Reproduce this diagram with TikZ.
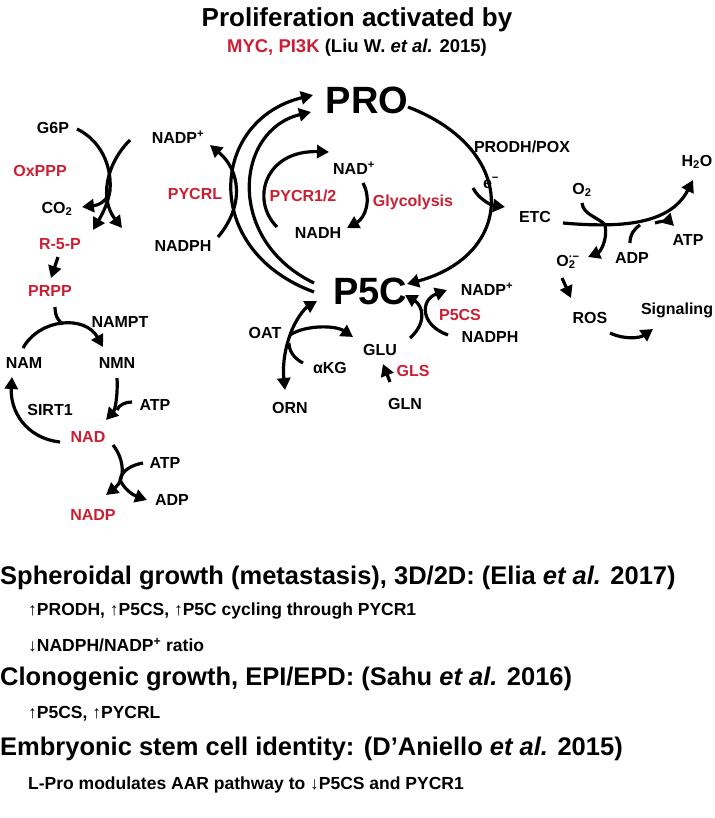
\documentclass[tikz,border=0pt]{standalone}
\usepackage{fontspec}
\setmainfont{Liberation Sans}
\usetikzlibrary{arrows.meta}
\definecolor{myred}{RGB}{204,30,50}
\begin{document}
\begin{tikzpicture}[x=1pt,y=-1pt,
  lbl/.style={font=\bfseries\fontsize{16}{18}\selectfont,inner sep=0pt},
  rl/.style={lbl,text=myred},
  big/.style={font=\bfseries\fontsize{38}{40}\selectfont,inner sep=0pt},
  arr/.style={line width=3.2pt,-{Triangle[length=12pt,width=13pt]}},
  ln/.style={line width=3.2pt},
  hd/.style={font=\bfseries\fontsize{25.5}{28}\selectfont,inner sep=0pt,anchor=west},
  it/.style={font=\bfseries\fontsize{17.5}{20}\selectfont,inner sep=0pt,anchor=west}]
\useasboundingbox (0,0) rectangle (714,818);
% title
\node[font=\bfseries\fontsize{26}{28}\selectfont] (t1) at (357,20) {Proliferation activated by};
\node[font=\bfseries\fontsize{18.5}{20}\selectfont] (t2) at (357,48) {\textcolor{myred}{MYC, PI3K} (Liu W. \textit{et al.} 2015)};
% main nodes
\node[big] (pro) at (367,100) {PRO};
\node[big] (p5c) at (370,291) {P5C};
% left labels
\node[lbl] (g6p) at (53,128) {G6P};
\node[rl] (oxppp) at (40,171) {OxPPP};
\node[lbl] (co2) at (57,209) {CO\textsubscript{2}};
\node[rl] (r5p) at (60,244) {R-5-P};
\node[rl] (prpp) at (50,291) {PRPP};
\node[lbl] (nampt) at (120,322) {NAMPT};
\node[lbl] (nam) at (24,363) {NAM};
\node[lbl] (nmn) at (117,363) {NMN};
\node[lbl] (sirt) at (50,410) {SIRT1};
\node[lbl] (atp1) at (155,405) {ATP};
\node[rl] (nad) at (88,437) {NAD};
\node[lbl] (atp2) at (165,463) {ATP};
\node[lbl] (adp1) at (172,500) {ADP};
\node[rl] (nadp) at (93,515) {NADP};
% middle labels
\node[lbl] (nadpp) at (178,137) {NADP\textsuperscript{+}};
\node[rl] (pycrl) at (195,194) {PYCRL};
\node[lbl] (nadph) at (183,246) {NADPH};
\node[lbl] (nadp2) at (354,168) {NAD\textsuperscript{+}};
\node[rl] (pycr) at (303,196) {PYCR1/2};
\node[lbl] (nadh) at (318,233) {NADH};
\node[rl] (gly) at (413,202) {Glycolysis};
% right labels
\node[lbl] (prodh) at (522,147) {PRODH/POX};
\node[lbl] (em) at (491,183) {e\textsuperscript{−}};
\node[lbl] (etc) at (535,217) {ETC};
\node[lbl] (o2) at (582,190) {O\textsubscript{2}};
\node[lbl] (h2o) at (697,162) {H\textsubscript{2}O};
\node[lbl] (atp3) at (688,240) {ATP};
\node[lbl] (adp2) at (632,258) {ADP};
\node[lbl] (o2m) at (566,262) {O\rlap{\textsuperscript{·−}}\textsubscript{2}};
\node[lbl] (ros) at (590,318) {ROS};
\node[lbl] (sig) at (677,310) {Signaling};
\node[lbl] (nadp3) at (487,289) {NADP\textsuperscript{+}};
\node[rl] (p5cs) at (460,315) {P5CS};
\node[lbl] (nadph2) at (490,337) {NADPH};
\node[lbl] (glu) at (380,350) {GLU};
\node[rl] (gls) at (413,371) {GLS};
\node[lbl] (gln) at (405,404) {GLN};
\node[lbl] (oat) at (265,333) {OAT};
\node[lbl] (akg) at (330,368) {αKG};
\node[lbl] (orn) at (290,408) {ORN};
% OxPPP
\draw[ln] (77,129) .. controls (100,140) and (112,165) .. (110,190);
\draw[arr] (110,190) .. controls (108,200) and (100,205) .. (82,207);
\draw[arr] (110,190) .. controls (108,205) and (100,218) .. (93,230);
\draw[arr] (130,140) .. controls (105,165) and (100,200) .. (122,228);
\draw[arr] (58,257) -- (51,278);
% NAD cycle
\draw[ln] (55,307) .. controls (55,318) and (60,322) .. (63,324);
\draw[arr] (23,348) .. controls (40,318) and (85,315) .. (103,347);
\draw[arr] (117,378) .. controls (118,395) and (115,410) .. (106,420);
\draw[ln] (132,402) .. controls (125,402) and (119,405) .. (117,410);
\draw[arr] (60,442) .. controls (25,438) and (10,410) .. (12,377);
\draw[arr] (113,445) .. controls (125,460) and (125,480) .. (106,495);
\draw[ln] (143,463) .. controls (132,465) and (122,470) .. (120,480);
\draw[arr] (120,480) .. controls (125,490) and (133,495) .. (147,500);
% PYCRL & big arcs
\draw[arr] (218,237) .. controls (245,205) and (240,170) .. (210,145);
\draw[arr] (314,292) .. controls (200,250) and (210,120) .. (313,95);
\draw[arr] (314,283) .. controls (225,240) and (235,130) .. (311,112);
\draw[arr] (277,227) .. controls (250,200) and (265,150) .. (329,152);
\draw[arr] (363,183) .. controls (372,200) and (365,218) .. (347,228);
% PRO -> P5C
\draw[arr] (408,107) .. controls (520,150) and (515,255) .. (407,284);
\draw[arr] (473,188) .. controls (478,198) and (490,205) .. (505,207);
% ETC
\draw[arr] (563,223) .. controls (620,228) and (670,225) .. (693,180);
\draw[ln] (582,203) .. controls (583,215) and (600,218) .. (605,225);
\draw[arr] (605,225) .. controls (608,240) and (600,252) .. (588,257);
\draw[ln] (630,243) .. controls (630,235) and (633,230) .. (640,225);
\draw[arr] (655,223) .. controls (664,220) and (670,222) .. (674,226);
\draw[arr] (562,278) -- (571,298);
\draw[arr] (610,333) .. controls (625,340) and (640,338) .. (653,329);
% P5CS
\draw[arr] (410,338) .. controls (428,322) and (422,305) .. (405,295);
\draw[arr] (448,335) .. controls (420,325) and (420,300) .. (447,290);
\draw[arr] (390,382) -- (383,364);
% OAT
\draw[arr] (290,335) .. controls (283,355) and (283,370) .. (285,390);
\draw[arr] (290,335) .. controls (295,320) and (305,308) .. (317,301);
\draw[arr] (290,335) .. controls (305,325) and (335,325) .. (353,337);
\draw[ln] (303,363) .. controls (293,358) and (289,350) .. (289,343);
% bottom text
\node[hd] (h1) at (0,578) {Spheroidal growth (metastasis), 3D/2D: (Elia \textit{et al.} 2017)};
\node[it] (i1) at (28,611) {↑PRODH, ↑P5CS, ↑P5C cycling through PYCR1};
\node[it] (i2) at (28,645) {↓NADPH/NADP\textsuperscript{+} ratio};
\node[hd] (h2) at (0,679) {Clonogenic growth, EPI/EPD: (Sahu \textit{et al.} 2016)};
\node[it] (i3) at (28,714) {↑P5CS, ↑PYCRL};
\node[hd] (h3) at (0,749) {Embryonic stem cell identity: (D’Aniello \textit{et al.} 2015)};
\node[it] (i4) at (28,785) {L-Pro modulates AAR pathway to ↓P5CS and PYCR1};
\end{tikzpicture}
\end{document}
